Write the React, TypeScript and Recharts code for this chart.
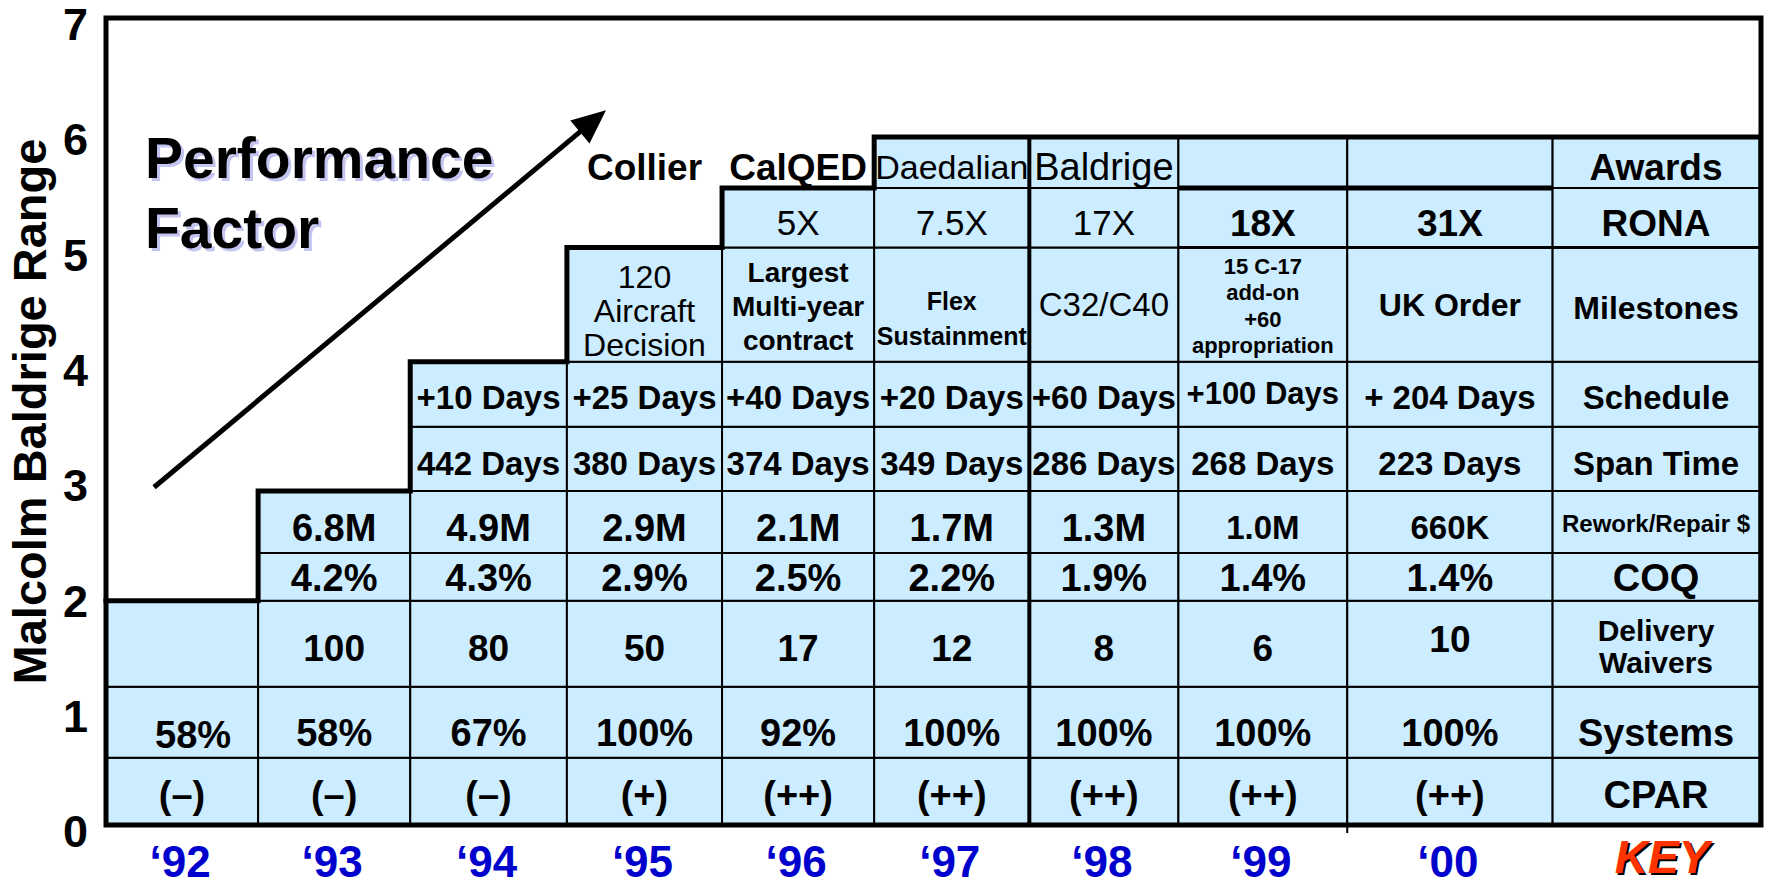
import React from 'react';
import { ComposedChart, Line, XAxis, YAxis, ReferenceArea, ReferenceLine, ReferenceDot } from 'recharts';

const FONT = '"Liberation Sans", Arial, Helvetica, sans-serif';
const CELL_FILL = '#ccecff';

// columns along the bottom
const years = ['‘92', '‘93', '‘94', '‘95', '‘96', '‘97', '‘98', '‘99', '‘00', 'KEY'];
// column boundaries on the year axis ('99, '00 and the key are wider)
const colEdges = [0, 1, 2, 3.03, 4.05, 5.05, 6.07, 7.05, 8.16, 9.51, 10.87];
// Baldrige range reached by each year (top of each column)
const levels = [1.945, 2.897, 4.018, 5.009, 5.525, 5.967, 5.967, 5.967, 5.967, 5.967];
// bottom of every row band on the range axis, last entry is the top of the table
const rowBands = [0, 0.584, 1.2, 1.945, 2.36, 2.897, 3.455, 4.018, 5.009, 5.525, 5.967];
const rangeTicks = [0, 1, 2, 3, 4, 5, 6, 7];

// row contents, bottom row first
const cpar = ['(–)', '(–)', '(–)', '(+)', '(++)', '(++)', '(++)', '(++)', '(++)', 'CPAR'];
const systems = ['58%', '58%', '67%', '100%', '92%', '100%', '100%', '100%', '100%', 'Systems'];
const waivers = ['', '100', '80', '50', '17', '12', '8', '6', '10', 'Delivery\nWaivers'];
const coq = ['', '4.2%', '4.3%', '2.9%', '2.5%', '2.2%', '1.9%', '1.4%', '1.4%', 'COQ'];
const rework = ['', '6.8M', '4.9M', '2.9M', '2.1M', '1.7M', '1.3M', '1.0M', '660K', 'Rework/Repair $'];
const spanTime = ['', '', '442 Days', '380 Days', '374 Days', '349 Days', '286 Days', '268 Days', '223 Days', 'Span Time'];
const schedule = ['', '', '+10 Days', '+25 Days', '+40 Days', '+20 Days', '+60 Days', '+100 Days', '+ 204 Days', 'Schedule'];
const milestones = ['', '', '', '120\nAircraft\nDecision', 'Largest\nMulti-year\ncontract', 'Flex\nSustainment', 'C32/C40', '15 C-17\nadd-on\n+60\nappropriation', 'UK Order', 'Milestones'];
const rona = ['', '', '', '', '5X', '7.5X', '17X', '18X', '31X', 'RONA'];
const awards = ['', '', '', 'Collier', 'CalQED', 'Daedalian', 'Baldrige', '', '', 'Awards'];

const rows = [cpar, systems, waivers, coq, rework, spanTime, schedule, milestones, rona, awards];

type TextStyle = { size: number; weight?: number; lh?: number; dx?: number; dy?: number };

// default text style per row
const rowStyle: TextStyle[] = [
  { size: 38, dy: 3 },
  { size: 38, dy: 10 },
  { size: 37, dy: 4 },
  { size: 38, dy: 1 },
  { size: 38, dy: 5 },
  { size: 33, dy: 4 },
  { size: 33, dy: 3 },
  { size: 32, dy: 3, lh: 34 },
  { size: 35, weight: 400, dy: 5 },
  { size: 37, dy: 4 },
];

// a few cells are typeset differently
const cellStyle: Record<string, Partial<TextStyle>> = {
  '1-0': { dx: 11, dy: 12 },
  '2-8': { dy: -5 },
  '2-9': { size: 30, lh: 32, dy: 3 },
  '4-7': { size: 33 },
  '4-8': { size: 33 },
  '4-9': { size: 24, dy: 1 },
  '6-7': { size: 31, dy: -1 },
  '7-3': { weight: 400, size: 32, lh: 34, dy: 6 },
  '7-4': { size: 28, lh: 34, dy: 1 },
  '7-5': { size: 25, lh: 35, dy: 14 },
  '7-6': { weight: 400, size: 33, dy: 0 },
  '7-7': { size: 22, lh: 26.6, dy: 1 },
  '7-8': { size: 32, dy: 0 },
  '8-7': { weight: 700, size: 37 },
  '8-8': { weight: 700, size: 37 },
  '8-9': { weight: 700, size: 37 },
  '9-5': { weight: 400, size: 34 },
  '9-6': { weight: 400, size: 38 },
};

const styleFor = (r: number, c: number): TextStyle => ({ ...rowStyle[r], ...(cellStyle[`${r}-${c}`] || {}) });

const CellText = ({ x, y, width, height, text, st }: any) => {
  const lines = String(text).split('\n');
  const cx = x + width / 2 + (st.dx ?? 0);
  const cy = y + height / 2 + (st.dy ?? 0);
  const lh = st.lh ?? st.size;
  return (
    <text textAnchor="middle" fontFamily={FONT} fontSize={st.size} fontWeight={st.weight ?? 700} fill="#000">
      {lines.map((ln, i) => (
        <tspan key={i} x={cx} y={cy + (i - (lines.length - 1) / 2) * lh + 0.358 * st.size}>
          {ln}
        </tspan>
      ))}
    </text>
  );
};

const RangeTick = (p: any) => (
  <text x={p.x} y={p.y + 6 + 0.358 * 45} textAnchor="end" fontFamily={FONT} fontSize={45} fontWeight={700} fill="#000">
    {p.payload.value}
  </text>
);

const YearTick = (p: any) => {
  const idx = colEdges.findIndex((e, i) => i < years.length && Math.abs((e + colEdges[i + 1]) / 2 - p.payload.value) < 1e-6);
  const label = years[idx] ?? '';
  const baseY = p.y + 52;
  if (label === 'KEY') {
    return (
      <g fontFamily={FONT} fontSize={46} fontWeight={700} fontStyle="italic" textAnchor="middle">
        <text x={p.x + 8} y={baseY - 2} fill="#000">{label}</text>
        <text x={p.x + 6} y={baseY - 4} fill="#ff3300">{label}</text>
      </g>
    );
  }
  return (
    <text x={p.x - 2} y={baseY} textAnchor="middle" fontFamily={FONT} fontSize={44} fontWeight={700} fill="#0000cc">
      {label}
    </text>
  );
};

const AxisTitle = ({ viewBox }: any) => {
  const x = viewBox.x + 46;
  const y = viewBox.y + viewBox.height / 2 - 10;
  return (
    <text x={x} y={y} transform={`rotate(-90, ${x}, ${y})`} textAnchor="middle" fontFamily={FONT} fontSize={47} fontWeight={700} fill="#000">
      Malcolm Baldrige Range
    </text>
  );
};

const Arrow = ({ x1, y1, x2, y2 }: any) => {
  const dx = x2 - x1;
  const dy = y2 - y1;
  const len = Math.hypot(dx, dy);
  const ux = dx / len;
  const uy = dy / len;
  const hl = 34;
  const hw = 15;
  const bx = x2 - ux * hl;
  const by = y2 - uy * hl;
  return (
    <g>
      <line x1={x1} y1={y1} x2={bx + ux * 4} y2={by + uy * 4} stroke="#000" strokeWidth={5} />
      <polygon points={`${x2},${y2} ${bx - uy * hw},${by + ux * hw} ${bx + uy * hw},${by - ux * hw}`} fill="#000" />
    </g>
  );
};

const PerfTitle = ({ cx, cy }: any) => (
  <g fontFamily={FONT} fontSize={57} fontWeight={700}>
    <text x={cx + 3} y={cy + 3} fill="#c4c4f0">
      <tspan x={cx + 3}>Performance</tspan>
      <tspan x={cx + 3} dy={70}>Factor</tspan>
    </text>
    <text x={cx} y={cy} fill="#000">
      <tspan x={cx}>Performance</tspan>
      <tspan x={cx} dy={70}>Factor</tspan>
    </text>
  </g>
);

export default function App() {
  const centers = years.map((_, i) => (colEdges[i] + colEdges[i + 1]) / 2);
  const stepData = [
    ...levels.map((y, i) => ({ x: colEdges[i], y })),
    { x: colEdges[colEdges.length - 1], y: levels[levels.length - 1] },
  ];

  const cellRects: React.ReactNode[] = [];
  const cellTexts: React.ReactNode[] = [];
  rows.forEach((row, r) => {
    row.forEach((text, c) => {
      const inBlock = levels[c] >= rowBands[r + 1] - 0.01;
      if (inBlock) {
        cellRects.push(
          <ReferenceArea
            key={`cell-${r}-${c}`}
            x1={colEdges[c]}
            x2={colEdges[c + 1]}
            y1={rowBands[r]}
            y2={rowBands[r + 1]}
            fill={CELL_FILL}
            fillOpacity={1}
            stroke="#000"
            strokeWidth={2}
          />
        );
      }
      if (text) {
        const st = styleFor(r, c);
        cellTexts.push(
          <ReferenceArea
            key={`txt-${r}-${c}`}
            x1={colEdges[c]}
            x2={colEdges[c + 1]}
            y1={rowBands[r]}
            y2={rowBands[r + 1]}
            shape={(p: any) => <CellText {...p} text={text} st={st} />}
          />
        );
      }
    });
  });

  return (
    <div style={{ position: 'absolute', left: 0, top: 0, width: 1767, height: 886, background: '#fff' }}>
      <ComposedChart width={1767} height={886} data={stepData} margin={{ top: 18, right: 6, bottom: 0, left: 0 }}>
        <XAxis
          type="number"
          dataKey="x"
          domain={[0, 10.88]}
          ticks={centers}
          interval={0}
          axisLine={false}
          tickLine={false}
          tickSize={0}
          tickMargin={0}
          height={61}
          tick={(p: any) => <YearTick {...p} />}
        />
        <YAxis
          type="number"
          domain={[0, 7]}
          ticks={rangeTicks}
          interval={0}
          axisLine={false}
          tickLine={false}
          tickSize={0}
          tickMargin={18}
          width={106}
          tick={(p: any) => <RangeTick {...p} />}
          label={<AxisTitle />}
        />
        {cellRects}
        {/* heavier dividers seen in the original table */}
        <ReferenceLine segment={[{ x: colEdges[6], y: 0 }, { x: colEdges[6], y: levels[6] }]} stroke="#000" strokeWidth={4} />
        <ReferenceLine segment={[{ x: colEdges[7], y: rowBands[9] }, { x: colEdges[9], y: rowBands[9] }]} stroke="#000" strokeWidth={5} />
        <ReferenceLine segment={[{ x: colEdges[7], y: rowBands[8] }, { x: colEdges[10], y: rowBands[8] }]} stroke="#000" strokeWidth={3} />
        {cellTexts}
        <ReferenceArea x1={0} x2={10.88} y1={0} y2={7} fill="none" stroke="#000" strokeWidth={5} />
        <Line
          dataKey="y"
          type="stepAfter"
          stroke="#000"
          strokeWidth={5}
          strokeLinecap="square"
          dot={false}
          activeDot={false}
          isAnimationActive={false}
        />
        <ReferenceLine
          segment={[{ x: colEdges[8], y: 0 }, { x: colEdges[8], y: -0.07 }]}
          stroke="#000"
          strokeWidth={2}
          ifOverflow="visible"
        />
        <ReferenceLine
          segment={[{ x: 0.316, y: 2.93 }, { x: 3.287, y: 6.2 }]}
          ifOverflow="visible"
          shape={(p: any) => <Arrow {...p} />}
        />
        <ReferenceDot x={0.256} y={5.61} ifOverflow="visible" shape={(p: any) => <PerfTitle {...p} />} />
      </ComposedChart>
    </div>
  );
}
